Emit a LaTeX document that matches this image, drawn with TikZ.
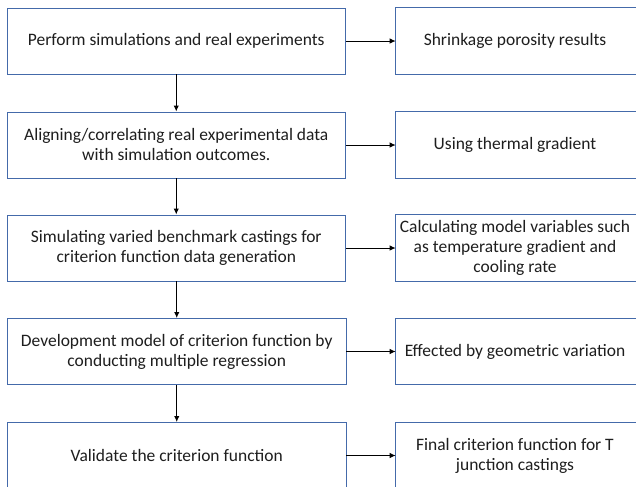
\documentclass[tikz,border=0pt]{standalone}
\usepackage{fontspec}
\setmainfont{Carlito}
\usetikzlibrary{arrows.meta}
\definecolor{boxblue}{RGB}{68,106,170}
\definecolor{txt}{RGB}{30,30,30}
\begin{document}
\begin{tikzpicture}[x=0.75pt,y=-0.75pt,
  leftbox/.style={draw=boxblue,line width=0.7pt,minimum width=253.9pt,minimum height=49.5pt,inner sep=0pt,align=center,font=\fontsize{13.1pt}{15pt}\selectfont,text=txt},
  rightbox/.style={minimum width=178.5pt,minimum height=49.5pt,inner sep=0pt,align=center,font=\fontsize{13.1pt}{15pt}\selectfont,text=txt},
  conn/.style={line width=0.7pt,-{Latex[length=4.5pt,width=4pt]}}]
\useasboundingbox (0,0) rectangle (636,486);
\clip (0,0) rectangle (636,486);
\fill[white] (0,0) rectangle (636,486);
% left column
\node[leftbox] (a1) at (176.25,41) {Perform simulations and real experiments};
\node[leftbox] (a2) at (176.25,145) {Aligning/correlating real experimental data\\with simulation outcomes.};
\node[leftbox] (a3) at (176.25,248) {Simulating varied benchmark castings for\\criterion function data generation};
\node[leftbox] (a4) at (176.75,351.5) {Development model of criterion function by\\conducting multiple regression};
\node[leftbox] (a5) at (176.75,455.5) {Validate the criterion function};
% right column
\node[rightbox] (b1) at (515,41) {Shrinkage porosity results};
\node[rightbox] (b2) at (515,145) {Using thermal gradient};
\node[rightbox] (b3) at (515,248) {Calculating model variables such\\as temperature gradient and\\cooling rate};
\node[rightbox] (b4) at (515,351.5) {Effected by geometric variation};
\node[rightbox] (b5) at (515,455.5) {Final criterion function for T\\junction castings};
\foreach \n in {b1,b2,b3,b4,b5}{
  \draw[boxblue,line width=0.7pt] ([xshift=20pt]\n.north east) -- (\n.north west) -- (\n.south west) -- ([xshift=20pt]\n.south east);
}
% connectors
\draw[conn] (a1) -- (a2);
\draw[conn] (a2) -- (a3);
\draw[conn] (a3.south -| a4.north) -- (a4);
\draw[conn] (a4) -- (a5);
\foreach \i in {1,...,5}{
  \draw[conn] (a\i) -- (b\i);
}
\end{tikzpicture}
\end{document}
